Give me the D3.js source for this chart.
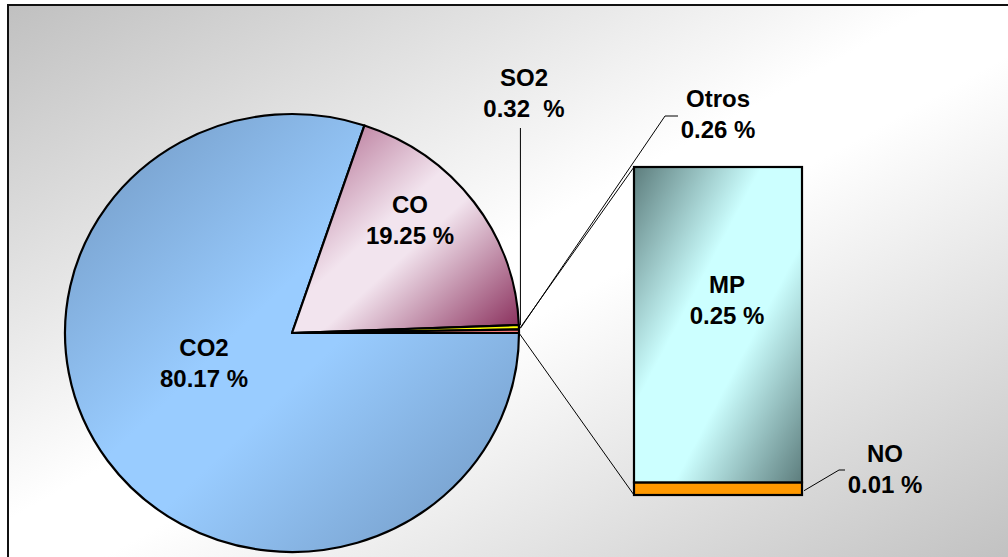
<!DOCTYPE html>
<html>
<head>
<meta charset="utf-8">
<script src="https://cdn.jsdelivr.net/npm/d3@7/dist/d3.min.js"></script>
<style>
  html, body { margin: 0; padding: 0; background: #ffffff; }
  svg { display: block; }
  text { font-family: "Liberation Sans", Arial, sans-serif; font-weight: bold; font-size: 24px; fill: #000; white-space: pre; }
</style>
</head>
<body>
<svg id="chart" width="1008" height="557"></svg>
<script>
// Emission shares (%) in the main pie; "Otros" is broken out into the bar
const pieNames  = ["CO2", "CO", "SO2", "Otros"];
const pieValues = [80.17, 19.25, 0.32, 0.26];

// Breakdown of "Otros" (%), stacked bottom to top
const barNames  = ["NO", "MP"];
const barValues = [0.01, 0.25];

// Text printed next to each value
const pieLabelText = ["80.17 %", "19.25 %", "0.32  %", "0.26 %"];
const barLabelText = ["0.01 %", "0.25 %"];

const svg = d3.select("#chart");
const defs = svg.append("defs");

// diagonal gradient helper: dark corner -> light middle band -> dark corner
function diag(id, dark, light, dark2, band) {
  const b = band || 0;
  const g = defs.append("linearGradient").attr("id", id)
    .attr("x1", 0).attr("y1", 0).attr("x2", 1).attr("y2", 1);
  g.append("stop").attr("offset", 0).attr("stop-color", dark);
  g.append("stop").attr("offset", 0.5 - b).attr("stop-color", light);
  g.append("stop").attr("offset", 0.5 + b).attr("stop-color", light);
  g.append("stop").attr("offset", 1).attr("stop-color", dark2 || dark);
}
diag("bgGrad", "#c0c0c0", "#ffffff", "#c0c0c0", 0.04);
diag("co2Grad", "#6f95bf", "#99ccff", "#6f95bf", 0.06);
diag("coGrad", "#a85a82", "#f2e4ee", "#872a58", 0.06);
diag("mpGrad", "#5d7d7d", "#ccffff", "#5d7d7d", 0.12);

// chart area background
svg.append("rect")
  .attr("x", 8).attr("y", 5).attr("width", 1010).attr("height", 560)
  .attr("fill", "url(#bgGrad)")
  .attr("stroke", "#111").attr("stroke-width", 2);

// ---- pie ----
const cx = 292, cy = 333, rx = 227, ry = 219;
const fills = ["url(#co2Grad)", "url(#coGrad)", "#ffff00", "#f47a7a"];

const pie = d3.pie().sort(null)
  .startAngle(Math.PI / 2).endAngle(Math.PI / 2 + 2 * Math.PI);
const arcs = pie(pieValues);
const arc = d3.arc().innerRadius(0).outerRadius(rx);

// point on the elliptical rim for a d3 angle (clockwise from 12 o'clock)
const rim = a => [cx + rx * Math.sin(a), cy - ry * Math.cos(a)];

const pieG = svg.append("g")
  .attr("transform", `translate(${cx},${cy}) scale(1,${ry / rx})`);
pieG.selectAll("path").data(arcs).join("path")
  .attr("d", arc)
  .attr("fill", (d, i) => fills[i])
  .attr("stroke", "#000")
  .attr("stroke-width", 2.2)
  .attr("stroke-linejoin", "round")
  .attr("vector-effect", "non-scaling-stroke");

// ---- bar of "Otros" ----
const otros = arcs[3];
const y = d3.scaleLinear().domain([0, d3.sum(barValues)]).range([495, 167]);
const x = d3.scaleBand().domain(["Otros"]).range([634, 802]).padding(0);

let acc = 0;
const stack = barValues.map((v, i) => {
  const s = { name: barNames[i], y0: acc, y1: acc + v };
  acc += v;
  return s;
});
const barFills = ["#ff9900", "url(#mpGrad)"];

svg.append("g").selectAll("rect").data(stack).join("rect")
  .attr("x", x("Otros"))
  .attr("width", x.bandwidth())
  .attr("y", d => y(d.y1))
  .attr("height", d => y(d.y0) - y(d.y1))
  .attr("fill", (d, i) => barFills[i])
  .attr("stroke", "#000")
  .attr("stroke-width", 2.2);

// connectors from the "Otros" slice to the bar
const lines = svg.append("g").attr("fill", "none").attr("stroke", "#000").attr("stroke-width", 1);
const pTop = rim(otros.startAngle), pBot = rim(otros.endAngle);
lines.append("line")
  .attr("x1", pTop[0]).attr("y1", pTop[1])
  .attr("x2", x("Otros")).attr("y2", y(d3.sum(barValues)));
lines.append("line")
  .attr("x1", pBot[0]).attr("y1", pBot[1])
  .attr("x2", x("Otros")).attr("y2", y(0));

// leader lines
const so2Mid = rim((arcs[2].startAngle + arcs[2].endAngle) / 2);
lines.append("path")
  .attr("d", `M${so2Mid[0] + 1.5},${so2Mid[1] - 2}L${so2Mid[0] + 1.5},128`);
const otMid = rim((otros.startAngle + otros.endAngle) / 2);
lines.append("path")
  .attr("d", `M${otMid[0] + 1.5},${otMid[1] - 3}L665,116L678,116`);
const noMid = (y(stack[0].y0) + y(stack[0].y1)) / 2;
lines.append("path")
  .attr("d", `M${x("Otros") + x.bandwidth() + 2},${noMid + 2}L839,470L845,470`);

// ---- labels ----
const labels = [
  { name: pieNames[0], val: pieLabelText[0], x: 204, y: 356 },
  { name: pieNames[1], val: pieLabelText[1], x: 410, y: 213 },
  { name: pieNames[2], val: pieLabelText[2], x: 524, y: 86 },
  { name: pieNames[3], val: pieLabelText[3], x: 718, y: 107 },
  { name: barNames[1], val: barLabelText[1], x: 727, y: 293 },
  { name: barNames[0], val: barLabelText[0], x: 885, y: 462 }
];
const lg = svg.append("g").attr("text-anchor", "middle");
labels.forEach(l => {
  const t = lg.append("text").attr("x", l.x).attr("y", l.y);
  t.append("tspan").attr("x", l.x).text(l.name);
  t.append("tspan").attr("x", l.x).attr("dy", 31).text(l.val);
});
</script>
</body>
</html>
